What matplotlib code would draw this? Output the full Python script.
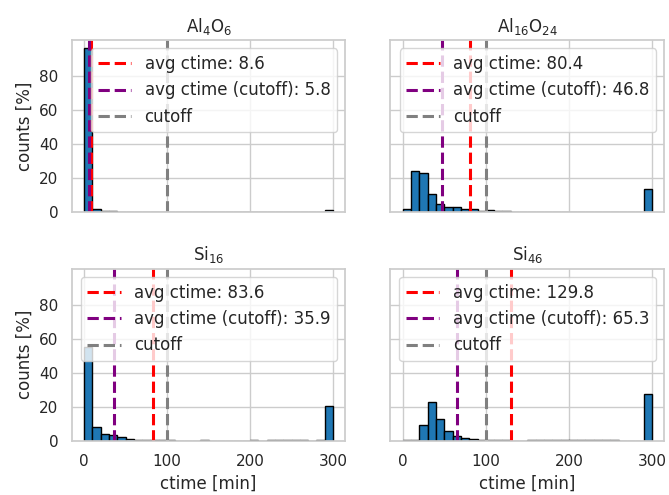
import numpy as np
import matplotlib
matplotlib.use("Agg")
import matplotlib.pyplot as plt
import seaborn as sns

sns.set_theme(style="whitegrid", context="notebook")

# histogram bins, 10 min wide, 0..300 min
bin_edges = np.arange(0, 310, 10)
cutoff = 100

titles = ["Al$_4$O$_6$", "Al$_{16}$O$_{24}$", "Si$_{16}$", "Si$_{46}$"]

# counts per bin in percent
al4o6 = [96.6, 1.5, 0.6, 0.3, 0.2, 0.1, 0.1, 0.1, 0.1, 0.1, 0.1, 0, 0, 0, 0,
         0, 0, 0, 0, 0, 0, 0, 0, 0, 0, 0, 0, 0, 0, 1.3]
al16o24 = [1.6, 24.1, 23.2, 10.4, 4.7, 3.1, 2.7, 2.0, 2.0, 0.6, 1.0, 0.3, 0.3, 0.2, 0.2,
           0.2, 0.1, 0.1, 0.1, 0.1, 0.1, 0.1, 0.1, 0.1, 0.1, 0.1, 0.1, 0.1, 0, 13.5]
si16 = [55.3, 7.8, 3.9, 3.1, 2.0, 1.0, 0.5, 0.3, 0.2, 0.1, 0.2, 0, 0, 0, 0.1,
        0, 0, 0, 0, 0, 0.3, 0, 0.2, 0.3, 0.2, 0.1, 0.2, 0, 0.5, 20.6]
si46 = [0.2, 0.2, 9.4, 22.5, 12.7, 5.9, 2.9, 1.6, 1.0, 0.5, 0.4, 0.3, 0.2, 0, 0,
        0.1, 0.1, 0.1, 0.1, 0.1, 0.1, 0.2, 0.1, 0.1, 0.1, 0.1, 0, 0, 0, 27.5]
counts = [al4o6, al16o24, si16, si46]

avg_ctime = [8.6, 80.4, 83.6, 129.8]
avg_ctime_cutoff = [5.8, 46.8, 35.9, 65.3]

fig, axes = plt.subplots(2, 2, figsize=(6.69, 4.95), dpi=100, sharex=True, sharey=True)
fig.subplots_adjust(left=0.107, right=0.993, top=0.919, bottom=0.110,
                    wspace=0.164, hspace=0.33)

for ax, title, vals, avg, avg_c in zip(axes.flat, titles, counts, avg_ctime, avg_ctime_cutoff):
    ax.bar(bin_edges[:-1], vals, width=10, align="edge",
           color="#1f77b4", edgecolor="black", linewidth=1)
    ax.axvline(avg, color="red", linestyle="--", linewidth=2.2, label=f"avg ctime: {avg}")
    ax.axvline(avg_c, color="purple", linestyle="--", linewidth=2.2,
               label=f"avg ctime (cutoff): {avg_c}")
    ax.axvline(cutoff, color="gray", linestyle="--", linewidth=2.2, label="cutoff")
    ax.set_title(title)
    ax.legend(loc="upper right", fontsize=12)

for ax in axes[:, 0]:
    ax.set_ylabel("counts [%]")
for ax in axes[1, :]:
    ax.set_xlabel("ctime [min]")

axes[0, 0].set_yticks([0, 20, 40, 60, 80])
axes[0, 0].set_xticks([0, 100, 200, 300])

plt.savefig("out.png")
